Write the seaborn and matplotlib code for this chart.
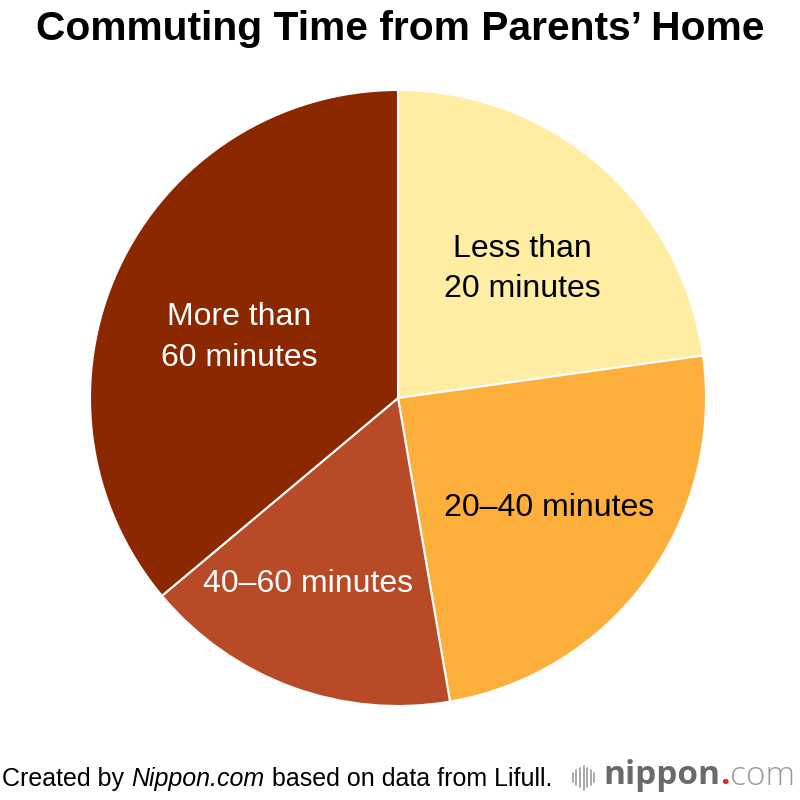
import numpy as np
import seaborn as sns
import matplotlib.pyplot as plt

# Commuting time from parents' home (share, %)
categories = ["Less than\n20 minutes", "20–40 minutes", "40–60 minutes", "More than\n60 minutes"]
shares = [22.8, 24.5, 16.6, 36.1]
colors = ["#FEEDA3", "#FDAF3C", "#B84A27", "#8C2800"]
label_colors = ["black", "black", "white", "white"]

sns.set_theme(style="white")
plt.rcParams["font.family"] = ["Liberation Sans", "DejaVu Sans"]
plt.rcParams["text.color"] = "black"

fig = plt.figure(figsize=(8, 8), dpi=100)
ax = fig.add_axes([0.4975 - 0.385, 0.5025 - 0.385, 0.77, 0.77])

wedges, texts = ax.pie(
    shares, labels=categories, colors=sns.color_palette(colors),
    startangle=90, counterclock=False, labeldistance=0.6,
    wedgeprops={"edgecolor": "white", "linewidth": 1.5},
    textprops={"fontsize": 23},
)

# label placement: radius and clockwise angle shift from each wedge's middle
label_r = [0.59, 0.60, 0.66, 0.555]
label_shift = [2, -1, 6, -3]
for w, t, c, rr, sh in zip(wedges, texts, label_colors, label_r, label_shift):
    mid = np.deg2rad((w.theta1 + w.theta2) / 2 - sh)
    t.set_position((rr * np.cos(mid), rr * np.sin(mid) - 0.012))
    t.set_color(c)
    t.set_ha("center")
    t.set_va("center")
    t.set_linespacing(1.45)

ax.set_xlim(-1, 1)
ax.set_ylim(-1, 1)
ax.set_aspect("equal")
ax.axis("off")

fig.text(0.5, 0.964, "Commuting Time from Parents’ Home", ha="center", va="center",
         fontsize=29.3, fontweight="bold")

# footer
fig.canvas.draw()
r = fig.canvas.get_renderer()
xpos = 0.003
for txt, style in [("Created by ", "normal"), ("Nippon.com", "italic"),
                   (" based on data from Lifull.", "normal")]:
    tt = fig.text(xpos, 0.0265, txt, ha="left", va="center", fontsize=18, fontstyle=style)
    bb = tt.get_window_extent(renderer=r)
    xpos += bb.width / fig.bbox.width

# nippon.com logo
for i, h in enumerate([0.012, 0.018, 0.024, 0.03, 0.024, 0.018, 0.012]):
    xb = 0.716 + i * 0.0045
    fig.add_artist(plt.Line2D([xb, xb], [0.028 - h / 2, 0.028 + h / 2],
                              color="#9a9a9a", lw=1.2))
xpos = 0.754
for txt, col, w in [("nippon", "#6a6a6a", "bold"), (".", "#e0242c", "bold"),
                    ("com", "#9a9a9a", "light")]:
    tt = fig.text(xpos, 0.030, txt, ha="left", va="center", fontsize=24,
                  color=col, fontweight=w, family=["Open Sans", "DejaVu Sans"])
    bb = tt.get_window_extent(renderer=r)
    xpos += bb.width / fig.bbox.width

fig.savefig("out.png", dpi=100)
